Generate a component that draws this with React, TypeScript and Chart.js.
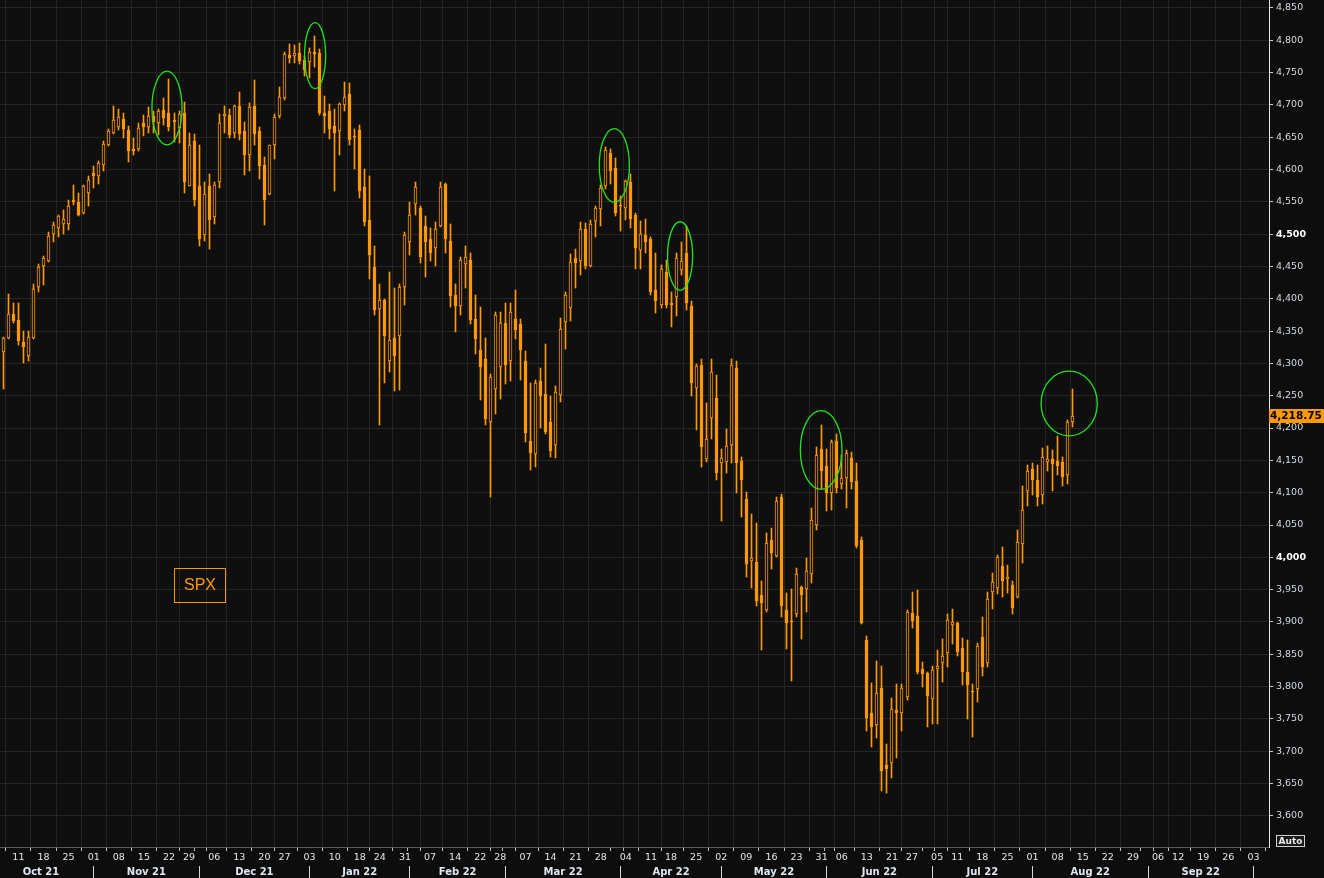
import React, { useEffect, useRef } from "react";
import { Chart, registerables } from "chart.js";

Chart.register(...registerables);

// ---------- calendar (trading sessions shown on the axis) ----------
const CALENDAR: [number, number, number[]][] = [
  [2021, 10, [6, 7, 8, 11, 12, 13, 14, 15, 18, 19, 20, 21, 22, 25, 26, 27, 28, 29]],
  [2021, 11, [1, 2, 3, 4, 5, 8, 9, 10, 11, 12, 15, 16, 17, 18, 19, 22, 23, 24, 26, 29, 30]],
  [2021, 12, [1, 2, 3, 6, 7, 8, 9, 10, 13, 14, 15, 16, 17, 20, 21, 22, 23, 27, 28, 29, 30, 31]],
  [2022, 1, [3, 4, 5, 6, 7, 10, 11, 12, 13, 14, 18, 19, 20, 21, 24, 25, 26, 27, 28, 31]],
  [2022, 2, [1, 2, 3, 4, 7, 8, 9, 10, 11, 14, 15, 16, 17, 18, 22, 23, 24, 25, 28]],
  [2022, 3, [1, 2, 3, 4, 7, 8, 9, 10, 11, 14, 15, 16, 17, 18, 21, 22, 23, 24, 25, 28, 29, 30, 31]],
  [2022, 4, [1, 4, 5, 6, 7, 8, 11, 12, 13, 14, 18, 19, 20, 21, 22, 25, 26, 27, 28, 29]],
  [2022, 5, [2, 3, 4, 5, 6, 9, 10, 11, 12, 13, 16, 17, 18, 19, 20, 23, 24, 25, 26, 27, 31]],
  [2022, 6, [1, 2, 3, 6, 7, 8, 9, 10, 13, 14, 15, 16, 17, 21, 22, 23, 24, 27, 28, 29, 30]],
  [2022, 7, [1, 5, 6, 7, 8, 11, 12, 13, 14, 15, 18, 19, 20, 21, 22, 25, 26, 27, 28, 29]],
  [2022, 8, [1, 2, 3, 4, 5, 8, 9, 10, 11, 12, 15, 16, 17, 18, 19, 22, 23, 24, 25, 26, 29, 30, 31]],
  [2022, 9, [1, 2, 6, 7, 8, 9, 12, 13, 14, 15, 16, 19, 20, 21, 22, 23, 26, 27, 28, 29, 30]],
  [2022, 10, [3, 4, 5, 6]],
];
const MONTH_NAMES = ["Jan", "Feb", "Mar", "Apr", "May", "Jun", "Jul", "Aug", "Sep", "Oct", "Nov", "Dec"];
const HIDDEN_LEAD_DAYS = 3; // Oct 1, 4, 5 2021 sit left of the first visible session

// ---------- SPX daily OHLC (Oct 6 2021 .. Aug 11 2022) ----------
const OPEN = [
  4318, 4340, 4377, 4367, 4333, 4312, 4339, 4418, 4450, 4459,
  4500, 4510, 4515, 4515, 4552, 4550, 4532, 4563, 4594, 4590,
  4607, 4637, 4656, 4665, 4678, 4661, 4632, 4632, 4671, 4666,
  4683, 4671, 4692, 4687, 4676, 4664, 4687, 4575, 4644, 4575,
  4499, 4574, 4527, 4580, 4682, 4684, 4656, 4698, 4659, 4623,
  4698, 4660, 4607, 4562, 4637, 4683, 4710, 4777, 4776, 4780,
  4769, 4766, 4782, 4780, 4687, 4691, 4667, 4659, 4699, 4716,
  4651, 4661, 4573, 4522, 4449, 4384, 4398, 4303, 4339, 4342,
  4418, 4487, 4546, 4540, 4513, 4492, 4478, 4513, 4577, 4489,
  4405, 4388, 4454, 4460, 4369, 4320, 4306, 4209, 4260, 4294,
  4362, 4303, 4369, 4361, 4304, 4180, 4160, 4273, 4253, 4209,
  4173, 4251, 4364, 4386, 4463, 4459, 4508, 4451, 4520, 4539,
  4574, 4626, 4602, 4545, 4541, 4580, 4530, 4475, 4499, 4493,
  4414, 4391, 4442, 4394, 4402, 4444, 4470, 4389, 4262, 4298,
  4152, 4215, 4246, 4146, 4147, 4173, 4293, 4149, 4091, 3995,
  3993, 3941, 3918, 4027, 4002, 4093, 3919, 3902, 3912, 3954,
  3951, 3974, 4050, 4167, 4142, 4099, 4180, 4113, 4123, 4153,
  4118, 4027, 3872, 3759, 3741, 3798, 3679, 3682, 3764, 3759,
  3784, 3914, 3910, 3827, 3821, 3781, 3827, 3836, 3852, 3895,
  3898, 3860, 3822, 3794, 3796, 3877, 3836, 3946, 3952, 3987,
  3966, 3957, 3938, 4020, 4103, 4136, 4120, 4096, 4148, 4152,
  4149, 4147, 4127, 4210,
];
const HIGH = [
  4341, 4407, 4393, 4393, 4350, 4350, 4422, 4454, 4466, 4503,
  4519, 4530, 4537, 4553, 4576, 4564, 4576, 4590, 4605, 4613,
  4644, 4663, 4698, 4694, 4688, 4667, 4648, 4671, 4684, 4696,
  4690, 4694, 4710, 4740, 4688, 4690, 4705, 4656, 4655, 4638,
  4580, 4593, 4581, 4685, 4698, 4693, 4700, 4719, 4673, 4702,
  4739, 4665, 4619, 4638, 4686, 4728, 4781, 4794, 4793, 4796,
  4775, 4788, 4806, 4786, 4713, 4701, 4693, 4702, 4735, 4733,
  4662, 4668, 4600, 4590, 4482, 4423, 4400, 4442, 4416, 4422,
  4503, 4550, 4580, 4544, 4528, 4509, 4519, 4580, 4579, 4516,
  4423, 4464, 4481, 4470, 4406, 4387, 4340, 4284, 4379, 4379,
  4394, 4394, 4414, 4369, 4319, 4269, 4275, 4293, 4330, 4249,
  4265, 4370, 4410, 4469, 4477, 4518, 4517, 4522, 4544, 4576,
  4634, 4632, 4618, 4559, 4584, 4593, 4533, 4520, 4524, 4496,
  4470, 4452, 4460, 4410, 4470, 4488, 4512, 4397, 4299, 4307,
  4239, 4307, 4282, 4167, 4199, 4306, 4304, 4155, 4101, 4067,
  4053, 3964, 4037, 4045, 4093, 4098, 3945, 3951, 3983, 3956,
  3999, 4076, 4170, 4205, 4167, 4182, 4191, 4159, 4166, 4163,
  4146, 4032, 3879, 3806, 3840, 3832, 3712, 3782, 3804, 3804,
  3919, 3946, 3950, 3838, 3822, 3832, 3857, 3874, 3913, 3920,
  3900, 3876, 3872, 3804, 3868, 3907, 3946, 3976, 4004, 4016,
  3988, 3964, 4043, 4111, 4143, 4146, 4143, 4169, 4172, 4166,
  4188, 4155, 4213, 4261,
];
const LOW = [
  4260, 4338, 4362, 4329, 4301, 4303, 4338, 4411, 4421, 4457,
  4488, 4496, 4500, 4507, 4545, 4528, 4531, 4544, 4572, 4578,
  4598, 4636, 4654, 4661, 4649, 4611, 4622, 4628, 4652, 4657,
  4657, 4653, 4669, 4660, 4643, 4641, 4563, 4574, 4543, 4482,
  4490, 4477, 4516, 4572, 4657, 4648, 4649, 4646, 4591, 4597,
  4637, 4585, 4514, 4560, 4616, 4679, 4708, 4765, 4765, 4763,
  4744, 4741, 4759, 4684, 4657, 4647, 4567, 4622, 4690, 4637,
  4600, 4555, 4512, 4431, 4375, 4205, 4270, 4287, 4257, 4259,
  4390, 4468, 4530, 4456, 4433, 4458, 4450, 4511, 4471, 4387,
  4348, 4375, 4417, 4361, 4315, 4244, 4205, 4094, 4221, 4245,
  4268, 4272, 4338, 4275, 4179, 4135, 4140, 4200, 4191, 4155,
  4153, 4241, 4322, 4366, 4417, 4436, 4446, 4449, 4496, 4513,
  4570, 4578, 4528, 4504, 4522, 4510, 4446, 4446, 4470, 4406,
  4378, 4386, 4385, 4357, 4374, 4436, 4382, 4249, 4197, 4139,
  4148, 4183, 4120, 4056, 4131, 4146, 4100, 4063, 3970, 3953,
  3924, 3856, 3916, 3982, 4001, 3907, 3858, 3808, 3907, 3873,
  3915, 3961, 4043, 4105, 4072, 4073, 4099, 4106, 4077, 4106,
  4015, 3897, 3732, 3706, 3720, 3639, 3636, 3658, 3690, 3732,
  3779, 3890, 3819, 3799, 3738, 3742, 3742, 3807, 3830, 3866,
  3848, 3802, 3750, 3722, 3777, 3817, 3831, 3920, 3943, 3939,
  3945, 3912, 3937, 3992, 4080, 4096, 4079, 4083, 4134, 4102,
  4128, 4111, 4113, 4201,
];
const CLOSE = [
  4339, 4377, 4366, 4335, 4326, 4341, 4415, 4449, 4463, 4497,
  4514, 4528, 4523, 4544, 4550, 4530, 4575, 4584, 4590, 4610,
  4639, 4659, 4676, 4681, 4663, 4628, 4629, 4664, 4665, 4683,
  4673, 4690, 4680, 4665, 4673, 4686, 4581, 4638, 4552, 4493,
  4562, 4522, 4576, 4672, 4686, 4653, 4698, 4654, 4623, 4696,
  4654, 4605, 4553, 4637, 4681, 4712, 4779, 4773, 4780, 4767,
  4753, 4782, 4779, 4688, 4682, 4663, 4657, 4701, 4712, 4646,
  4650, 4566, 4518, 4468, 4383, 4398, 4343, 4336, 4311, 4418,
  4499, 4530, 4573, 4464, 4487, 4471, 4508, 4573, 4492, 4404,
  4388, 4460, 4464, 4367, 4337, 4294, 4214, 4279, 4375, 4362,
  4297, 4380, 4352, 4321, 4192, 4162, 4269, 4250, 4194, 4165,
  4255, 4353, 4406, 4457, 4455, 4508, 4450, 4515, 4540, 4571,
  4630, 4598, 4533, 4543, 4582, 4523, 4478, 4500, 4487, 4411,
  4396, 4446, 4390, 4390, 4463, 4459, 4393, 4269, 4296, 4171,
  4183, 4286, 4130, 4153, 4172, 4298, 4146, 4120, 3989, 3999,
  3932, 3929, 4022, 4006, 4087, 3924, 3899, 3900, 3974, 3941,
  3979, 4058, 4159, 4133, 4100, 4179, 4108, 4122, 4161, 4116,
  4017, 3899, 3751, 3737, 3790, 3669, 3673, 3765, 3760, 3798,
  3915, 3902, 3823, 3819, 3786, 3825, 3832, 3848, 3903, 3900,
  3854, 3822, 3802, 3791, 3863, 3831, 3936, 3962, 4000, 3963,
  3969, 3921, 4023, 4073, 4134, 4119, 4093, 4155, 4152, 4145,
  4141, 4124, 4209, 4218.75,
];
const LAST_PRICE = 4218.75;
const SERIES_LABEL = "SPX";

// price axis ticks
const Y_TICKS = [
  3600, 3650, 3700, 3750, 3800, 3850, 3900, 3950, 4000, 4050, 4100, 4150, 4200,
  4250, 4300, 4350, 4400, 4450, 4500, 4550, 4600, 4650, 4700, 4750, 4800, 4850,
];
const Y_MIN = 3552;
const Y_MAX = 4862;
const X_MIN = -0.66;
const X_MAX = 252.1;

// highlighted turning points: [session index, price, half-width (sessions), half-height (points)]
const HIGHLIGHTS: [number, number, number, number][] = [
  [32.6, 4695, 3.0, 57],
  [62.1, 4776, 2.1, 51],
  [121.7, 4606, 3.0, 57],
  [134.8, 4466, 2.5, 53],
  [162.9, 4166, 4.15, 61],
  [212.3, 4238, 5.6, 50],
];

// ---------- derived calendar helpers ----------
type Day = { y: number; m: number; d: number; i: number };
const DAYS: Day[] = [];
CALENDAR.forEach(([y, m, ds]) => ds.forEach((d) => DAYS.push({ y, m, d, i: DAYS.length })));
const weekday = (t: Day) => new Date(Date.UTC(t.y, t.m - 1, t.d)).getUTCDay();
const WEEK_STARTS = DAYS.filter((t, i) => i > 0 && weekday(t) < weekday(DAYS[i - 1])).map((t) => t.i);
const MONTH_BOUNDS: number[] = [];
{
  let c = 0;
  CALENDAR.forEach(([, , ds], j) => {
    MONTH_BOUNDS.push(j === 0 ? -HIDDEN_LEAD_DAYS : c);
    c += ds.length;
  });
}
const MONTH_STARTS = MONTH_BOUNDS.slice(1);
const MONTH_MIDS = CALENDAR.slice(0, -1).map((_, j) => (MONTH_BOUNDS[j] + MONTH_BOUNDS[j + 1]) / 2);
const monthLabel = (j: number) => `${MONTH_NAMES[CALENDAR[j][1] - 1]} ${String(CALENDAR[j][0]).slice(2)}`;
const AXIS_TICKS = Array.from(new Set([...WEEK_STARTS, ...MONTH_STARTS])).sort((a, b) => a - b);

const ORANGE = "#ff9900";
const BG = "#0d0d0d";
const PLOT_BG = "#0f0f0f";
const GRID = "#252525";
const FONT = "DejaVu Sans";
const fmt = (v: number) => v.toLocaleString("en-US", { maximumFractionDigits: 2 });

const decorPlugin = {
  id: "decor",
  beforeDraw(chart: any) {
    const { ctx, chartArea } = chart;
    ctx.save();
    ctx.fillStyle = BG;
    ctx.fillRect(0, 0, chart.width, chart.height);
    ctx.fillStyle = PLOT_BG;
    ctx.fillRect(chartArea.left, chartArea.top, chartArea.right - chartArea.left, chartArea.bottom - chartArea.top);
    ctx.restore();
  },
  beforeDatasetsDraw(chart: any) {
    // snap the candle elements to the device pixel grid so edges stay crisp
    chart.getSortedVisibleDatasetMetas().forEach((meta: any) => {
      meta.data.forEach((el: any) => {
        el.x = Math.floor(el.x) + 0.5;
        el.y = Math.round(el.y);
        el.base = Math.round(el.base);
      });
    });
  },
  afterDatasetsDraw(chart: any) {
    const { ctx, chartArea } = chart;
    const xs = chart.scales.x;
    const ys = chart.scales.y;
    ctx.save();
    ctx.beginPath();
    ctx.rect(chartArea.left, chartArea.top, chartArea.right - chartArea.left, chartArea.bottom - chartArea.top);
    ctx.clip();
    ctx.strokeStyle = "#1ee61e";
    ctx.lineWidth = 1.3;
    HIGHLIGHTS.forEach(([k, p, rk, rp]) => {
      const cx = xs.getPixelForValue(k);
      const cy = ys.getPixelForValue(p);
      const rx = Math.abs(xs.getPixelForValue(k + rk) - cx);
      const ry = Math.abs(ys.getPixelForValue(p + rp) - cy);
      ctx.beginPath();
      ctx.ellipse(cx, cy, rx, ry, 0, 0, Math.PI * 2);
      ctx.stroke();
    });
    ctx.restore();
  },
  afterDraw(chart: any) {
    const { ctx, chartArea } = chart;
    const xs = chart.scales.x;
    const xm = chart.scales.xm;
    const ys = chart.scales.y;
    ctx.save();
    // series label box
    const bx = chartArea.left + 174.5;
    const by = chartArea.top + 568.5;
    ctx.strokeStyle = ORANGE;
    ctx.lineWidth = 1;
    ctx.strokeRect(bx, by, 51, 34);
    ctx.fillStyle = ORANGE;
    ctx.font = `16px "Liberation Sans"`;
    ctx.textAlign = "center";
    ctx.textBaseline = "middle";
    ctx.fillText(SERIES_LABEL, bx + 25.5, by + 17.5);

    // month separators
    ctx.strokeStyle = "#d8d8d8";
    ctx.lineWidth = 1;
    MONTH_STARTS.forEach((s) => {
      const px = Math.floor(xs.getPixelForValue(s)) + 0.5;
      if (px > chartArea.right) return;
      ctx.beginPath();
      ctx.moveTo(px, xm.top + 2);
      ctx.lineTo(px, xm.bottom);
      ctx.stroke();
    });

    // last price tag
    const yp = Math.round(ys.getPixelForValue(LAST_PRICE));
    ctx.fillStyle = ORANGE;
    ctx.fillRect(ys.left, yp - 7, chart.width - ys.left, 14);
    ctx.fillStyle = "#000";
    ctx.font = `bold 10.5px "${FONT}"`;
    ctx.textAlign = "left";
    ctx.textBaseline = "middle";
    ctx.fillText(fmt(LAST_PRICE), ys.left + 1, yp);

    // "Auto" box
    const ax = ys.left + 7.5;
    const ay = chartArea.bottom - 11.5;
    ctx.fillStyle = "#1a1a1a";
    ctx.fillRect(ax, ay, 28, 11);
    ctx.strokeStyle = "#cfcfcf";
    ctx.strokeRect(ax, ay, 28, 11);
    ctx.fillStyle = "#e8e8e8";
    ctx.font = `bold 9px "${FONT}"`;
    ctx.textAlign = "center";
    ctx.fillText("Auto", ax + 14, ay + 6);
    ctx.restore();
  },
};

export default function App() {
  const ref = useRef<HTMLCanvasElement | null>(null);

  useEffect(() => {
    document.body.style.margin = "0";
    document.body.style.background = BG;
    const canvas = ref.current;
    if (!canvas) return;
    const isUp = (i: number) => CLOSE[i] >= OPEN[i];
    const chart = new Chart(canvas, {
      type: "bar",
      data: {
        datasets: [
          {
            label: "body",
            data: OPEN.map((o, i) => ({ x: i, y: [o, CLOSE[i]] })) as any,
            backgroundColor: OPEN.map((_, i) => (isUp(i) ? PLOT_BG : ORANGE)),
            borderColor: ORANGE,
            borderWidth: 1,
            borderSkipped: false,
            barThickness: 3,
            minBarLength: 1,
            grouped: false,
            order: 0,
            xAxisID: "x",
            yAxisID: "y",
          },
          {
            label: "wick",
            data: LOW.map((l, i) => ({ x: i, y: [l, HIGH[i]] })) as any,
            backgroundColor: ORANGE,
            borderWidth: 0,
            barThickness: 1,
            grouped: false,
            order: 1,
            xAxisID: "x",
            yAxisID: "y",
          },
        ],
      },
      options: {
        animation: false,
        responsive: false,
        maintainAspectRatio: false,
        layout: { padding: 0 },
        plugins: { legend: { display: false }, tooltip: { enabled: false } },
        scales: {
          x: {
            type: "linear",
            position: "bottom",
            min: X_MIN,
            max: X_MAX,
            offset: false,
            weight: 0,
            afterBuildTicks: (s: any) => {
              s.ticks = AXIS_TICKS.map((v) => ({ value: v }));
            },
            afterFit: (s: any) => {
              s.height = 17;
              s.paddingLeft = 0;
              s.paddingRight = 0;
            },
            grid: {
              color: (c: any) => (c.tick && WEEK_STARTS.includes(c.tick.value) ? GRID : "rgba(0,0,0,0)"),
              tickColor: "#bdbdbd",
              tickLength: 4,
              lineWidth: 1,
            },
            border: { color: "#5c5c5c" },
            ticks: {
              autoSkip: false,
              maxRotation: 0,
              padding: 1,
              color: "#e6e6e6",
              font: { family: FONT, size: 9.5 },
              callback: (v: any) => {
                const t = DAYS[v as number];
                return t && WEEK_STARTS.includes(t.i) ? String(t.d).padStart(2, "0") : "";
              },
            },
          },
          xm: {
            type: "linear",
            position: "bottom",
            min: X_MIN,
            max: X_MAX,
            offset: false,
            weight: 1,
            afterBuildTicks: (s: any) => {
              s.ticks = MONTH_MIDS.map((v) => ({ value: v }));
            },
            afterFit: (s: any) => {
              s.height = 14;
              s.paddingLeft = 0;
              s.paddingRight = 0;
            },
            grid: { display: false, drawTicks: false, tickLength: 0 },
            border: { display: false },
            ticks: {
              autoSkip: false,
              maxRotation: 0,
              padding: 2,
              color: "#dfe6ef",
              font: { family: FONT, size: 10, weight: "bold" },
              callback: (_v: any, idx: number) => monthLabel(idx),
            },
          },
          y: {
            type: "linear",
            position: "right",
            min: Y_MIN,
            max: Y_MAX,
            afterBuildTicks: (s: any) => {
              s.ticks = Y_TICKS.map((v) => ({ value: v }));
            },
            afterFit: (s: any) => {
              s.width = 55;
              s.paddingTop = 0;
              s.paddingBottom = 0;
            },
            grid: { color: GRID, tickColor: "#d0d0d0", tickLength: 4 },
            border: { color: "#e8e8e8" },
            ticks: {
              padding: 3,
              color: (c: any) => (c.tick && c.tick.value % 500 === 0 ? "#ffffff" : "#d5dbe2"),
              font: (c: any) => ({
                family: FONT,
                size: 9.5,
                weight: c.tick && c.tick.value % 500 === 0 ? "bold" : "normal",
              }),
              callback: (v: any) => fmt(v as number),
            },
          },
        },
      } as any,
      plugins: [decorPlugin],
    });
    return () => chart.destroy();
  }, []);

  return (
    <div style={{ width: 1324, height: 878, background: BG }}>
      <canvas ref={ref} width={1324} height={878} style={{ display: "block" }} />
    </div>
  );
}
